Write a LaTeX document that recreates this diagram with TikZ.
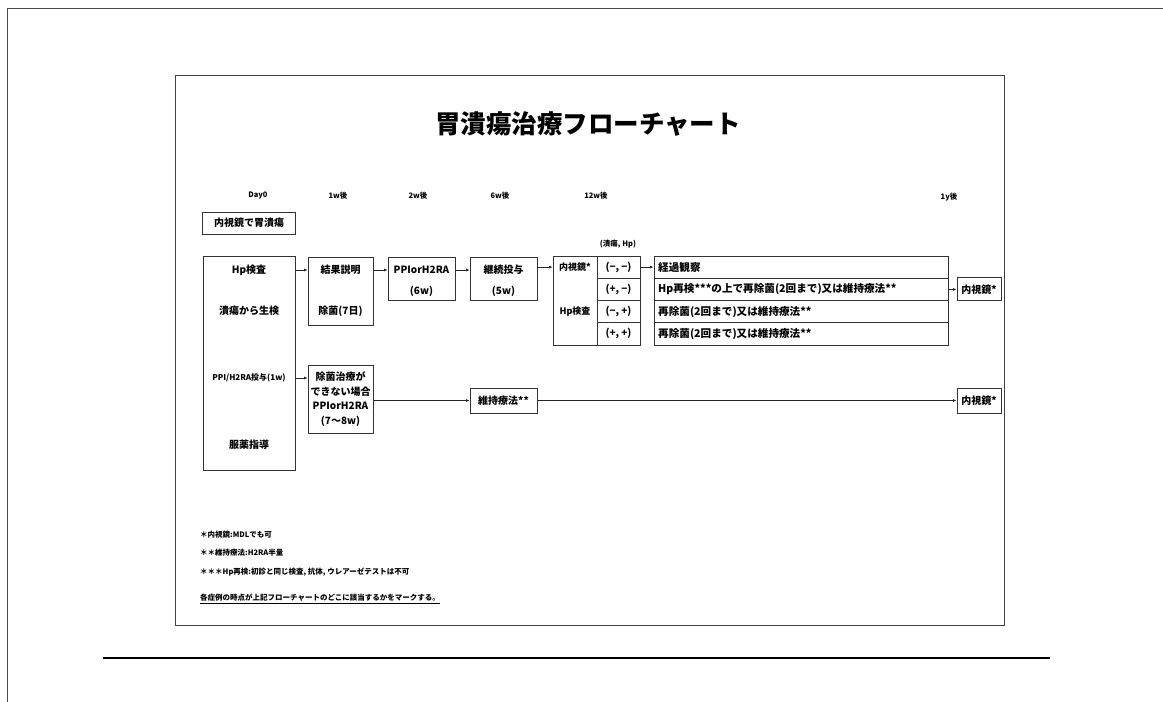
\documentclass[tikz,border=0pt]{standalone}
\usepackage{fontspec}
\setmainfont{Noto Sans CJK JP}
\usetikzlibrary{arrows.meta,calc}
\tikzset{
  frame/.style={draw=black!75, line width=0.9pt},
  box/.style={draw=black!80, line width=0.9pt, inner sep=0pt},
  txt/.style={font=\fontsize{10}{11}\selectfont\bfseries, inner sep=0pt},
  ttxt/.style={font=\fontsize{10.6}{12}\selectfont\bfseries, inner sep=0pt},
  lbl/.style={font=\fontsize{7.5}{8}\selectfont\bfseries, inner sep=0pt},
  note/.style={font=\fontsize{7.5}{9}\selectfont\bfseries, inner sep=0pt, anchor=west},
  arr/.style={draw=black!85, line width=0.8pt, -{Latex[length=3.5pt,width=3pt]}},
}
\begin{document}
\begin{tikzpicture}[x=1pt,y=-1pt]
\useasboundingbox (0,0) rectangle (1163,702);
\fill[white] (0,0) rectangle (1163,702);
% page edges
\coordinate (pgTL) at (7,8);
\coordinate (pgTR) at (1163,8);
\coordinate (pgBL) at (7,702);
\draw[black!70, line width=1pt] (pgTR) -- (pgTL) -- (pgBL);
\coordinate (sepL) at (103,658);
\coordinate (sepR) at (1050,658);
\draw[black, line width=2pt] (sepL) -- (sepR);
% inner frame
\node[frame, minimum width=829pt, minimum height=550pt, inner sep=0pt] (inner) at (589.5,350) {};
% title
\node[font=\fontsize{25.5}{28}\selectfont\bfseries, inner sep=0pt] (title) at (588,124) {胃潰瘍治療フローチャート};
% column labels
\node[lbl] (c0) at (258,196) {Day0};
\node[lbl] (c1) at (338,196) {1w後};
\node[lbl] (c2) at (418,196) {2w後};
\node[lbl] (c3) at (500,196) {6w後};
\node[lbl] (c4) at (596,196) {12w後};
\node[lbl] (c5) at (949,197) {1y後};
% start box
\node[box, minimum width=93pt, minimum height=22pt, txt] (start) at (249,223) {内視鏡で胃潰瘍};
% big left box
\node[box, minimum width=92pt, minimum height=214pt] (big) at (249,363) {};
\node[txt] (hp) at (249,270) {Hp検査};
\node[txt] (bio) at (249,311) {潰瘍から生検};
\node[txt, font=\fontsize{8}{9}\selectfont\bfseries] (ppi) at (249,378) {PPI/H2RA投与(1w)};
\node[txt] (guid) at (249,445) {服薬指導};
% 1w box
\node[box, minimum width=65pt, minimum height=68pt] (w1) at (340.5,291) {};
\node[txt] (w1a) at (340.5,270) {結果説明};
\node[txt] (w1b) at (340.5,311) {除菌(7日)};
% 2w box
\node[box, minimum width=67pt, minimum height=43pt] (w2) at (421.5,278.5) {};
\node[txt] (w2a) at (421.5,270) {PPIorH2RA};
\node[txt] (w2b) at (421.5,291) {(6w)};
% 6w box
\node[box, minimum width=67pt, minimum height=43pt] (w6) at (503.5,278.5) {};
\node[txt] (w6a) at (503.5,270) {継続投与};
\node[txt] (w6b) at (503.5,291) {(5w)};
% 12w
\node[lbl] (hdr) at (618,244) {(潰瘍, Hp)};
\node[box, minimum width=44pt, minimum height=89pt] (endo) at (575,300.5) {};
\node[txt, font=\fontsize{9}{10}\selectfont\bfseries] (endoa) at (575,267) {内視鏡*};
\node[txt, font=\fontsize{9}{10}\selectfont\bfseries] (endob) at (575,312) {Hp検査};
\node[box, minimum width=43pt, minimum height=22.25pt, txt] (g1) at (618.5,267.1) {(−, −)};
\node[box, minimum width=43pt, minimum height=22.25pt, txt] (g2) at (618.5,289.4) {(+, −)};
\node[box, minimum width=43pt, minimum height=22.25pt, txt] (g3) at (618.5,311.6) {(−, +)};
\node[box, minimum width=43pt, minimum height=22.25pt, txt] (g4) at (618.5,333.9) {(+, +)};
\node[box, minimum width=294pt, minimum height=22.25pt] (t1) at (801,267.1) {};
\node[box, minimum width=294pt, minimum height=22.25pt] (t2) at (801,289.4) {};
\node[box, minimum width=294pt, minimum height=22.25pt] (t3) at (801,311.6) {};
\node[box, minimum width=294pt, minimum height=22.25pt] (t4) at (801,333.9) {};
\node[ttxt, anchor=west] (t1x) at (658,267.1) {経過観察};
\node[ttxt, anchor=west] (t2x) at (658,289.4) {Hp再検***の上で再除菌(2回まで)又は維持療法**};
\node[ttxt, anchor=west] (t3x) at (658,311.6) {再除菌(2回まで)又は維持療法**};
\node[ttxt, anchor=west] (t4x) at (658,333.9) {再除菌(2回まで)又は維持療法**};
% 1y upper
\node[box, minimum width=44pt, minimum height=23pt, txt] (y1) at (979,289.4) {内視鏡*};
% lower path
\node[box, minimum width=65pt, minimum height=68pt, txt, align=center, font=\fontsize{10}{14.5}\selectfont\bfseries] (lw1) at (340.5,399) {除菌治療が\\できない場合\\PPIorH2RA\\(7〜8w)};
\node[box, minimum width=67pt, minimum height=25pt, txt] (lm) at (503.5,400.5) {維持療法**};
\node[box, minimum width=44pt, minimum height=25pt, txt] (ly) at (979,400.5) {内視鏡*};
% arrows
\draw[arr] (big.east |- hp) -- (w1.west |- hp);
\draw[arr] (w1.east |- w2a) -- (w2.west |- w2a);
\draw[arr] (w2.east |- w6a) -- (w6.west |- w6a);
\draw[arr] (w6.east |- g1) -- (endo.west |- g1);
\draw[arr] (g1.east) -- (t1.west);
\draw[arr] (t2.east) -- (y1.west);
\draw[arr] (big.east |- ppi) -- (lw1.west |- ppi);
\draw[arr] (lw1.east |- lm) -- (lm.west);
\draw[arr] (lm.east) -- (ly.west);
% notes
\node[note] (n1) at (200,535) {＊内視鏡:MDLでも可};
\node[note] (n2) at (200,553) {＊＊維持療法:H2RA半量};
\node[note] (n3) at (200,572) {＊＊＊Hp再検:初診と同じ検査, 抗体, ウレアーゼテストは不可};
\node[note] (n4) at (200,599) {\underline{各症例の時点が上記フローチャートのどこに該当するかをマークする。}};
\end{tikzpicture}
\end{document}
